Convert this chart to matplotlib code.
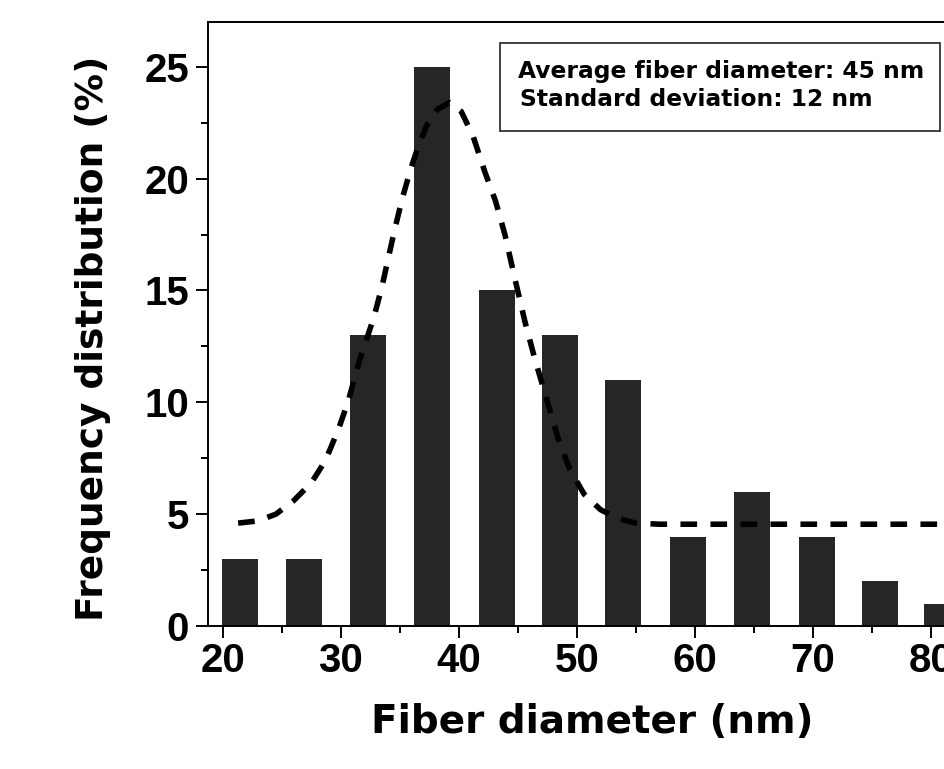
import matplotlib
matplotlib.use('Agg')
import matplotlib.pyplot as plt
from matplotlib.patches import Rectangle
from matplotlib.ticker import MultipleLocator

# bar centres (nm) and heights (%)
bin_centers = [21.5, 26.9, 32.3, 37.7, 43.2, 48.6, 53.9, 59.4, 64.8, 70.3, 75.7, 80.9]
frequency = [3, 3, 13, 25, 15, 13, 11, 4, 6, 4, 2, 1]
bar_width = 3.05

# dashed fit curve
fit_x = [21.3, 23.0, 24.5, 26.0, 27.5, 28.7, 29.8, 30.6, 31.6, 32.8, 33.5, 34.0,
         34.6, 35.2, 35.9, 36.6, 37.3, 38.2, 39.2, 40.2, 41.2, 42.2, 43.1, 43.9,
         44.8, 45.6, 46.4, 47.4, 48.4, 49.4, 50.6, 52.0, 53.5, 55.0, 57.0, 60.0,
         70.0, 81.6]
fit_y = [4.6, 4.7, 5.0, 5.6, 6.4, 7.4, 8.8, 10.0, 11.9, 13.8, 15.2, 16.4,
         17.8, 19.1, 20.4, 21.5, 22.4, 23.1, 23.4, 23.0, 21.9, 20.3, 19.0, 17.5,
         15.4, 13.6, 12.0, 10.2, 8.4, 7.0, 5.9, 5.2, 4.8, 4.6, 4.55, 4.55,
         4.55, 4.55]

info_lines = ['Average fiber diameter: 45 nm', 'Standard deviation: 12 nm']

plt.rcParams['font.family'] = ['Liberation Sans', 'DejaVu Sans']
plt.rcParams['font.weight'] = 'bold'
label_font = ['DejaVu Sans']

W, H = 945, 769
fig = plt.figure(figsize=(W / 100, H / 100), dpi=100)
ax = fig.add_axes([208 / W, 1 - 626 / H, (950 - 208) / W, (626 - 22) / H])

ax.bar(bin_centers, frequency, width=bar_width, color='#262626', zorder=2)
ax.plot(fit_x, fit_y, color='black', lw=4, ls=(0, (3.0, 2.4)), zorder=3)

ax.set_xlim(18.75, 81.6)
ax.set_ylim(0, 27)
ax.xaxis.set_major_locator(MultipleLocator(10))
ax.xaxis.set_minor_locator(MultipleLocator(5))
ax.yaxis.set_major_locator(MultipleLocator(5))
ax.yaxis.set_minor_locator(MultipleLocator(2.5))
ax.tick_params(which='major', direction='out', length=8.6, width=1.4, labelsize=29)
ax.tick_params(axis='x', which='major', pad=3)
ax.tick_params(axis='y', which='major', pad=5)
ax.tick_params(which='minor', direction='out', length=5, width=1.4)
ax.tick_params(top=False, right=False)
for lab in ax.get_xticklabels() + ax.get_yticklabels():
    lab.set_fontweight('bold')
for side in ['left', 'bottom', 'top']:
    ax.spines[side].set_linewidth(1.4)
ax.spines['right'].set_visible(False)

fig.text(93 / W, 1 - 338 / H, 'Frequency distribution (%)', rotation=90,
         ha='center', va='center', fontsize=27, fontweight='bold', family=label_font)
fig.text(592 / W, 1 - 722 / H, 'Fiber diameter (nm)',
         ha='center', va='center', fontsize=28, fontweight='bold', family=label_font)

# info box
fig.add_artist(Rectangle((500 / W, 1 - 131 / H), 440 / W, 88 / H, transform=fig.transFigure,
                         facecolor='white', edgecolor='#333333', lw=1.3, zorder=5))
fig.text(518 / W, 1 - 78 / H, info_lines[0], fontsize=16.8, fontweight='bold',
         ha='left', va='baseline', zorder=6, family=label_font)
fig.text(520 / W, 1 - 106 / H, info_lines[1], fontsize=16.8, fontweight='bold',
         ha='left', va='baseline', zorder=6, family=label_font)

fig.savefig('out.png', dpi=100)
